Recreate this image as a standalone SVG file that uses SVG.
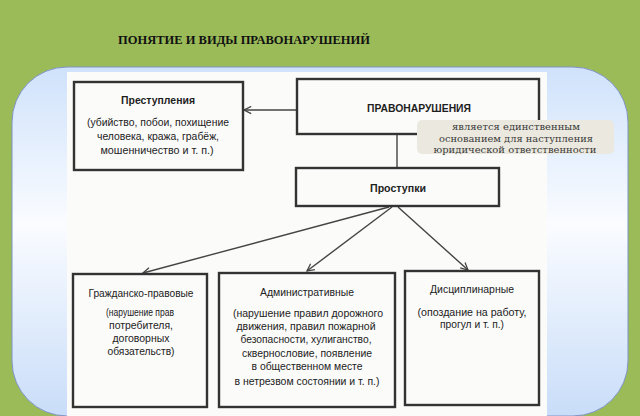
<svg xmlns="http://www.w3.org/2000/svg" width="640" height="416" viewBox="0 0 640 416">
  <defs>
    <linearGradient id="panelGrad" x1="0" y1="0" x2="0" y2="1">
      <stop offset="0" stop-color="#cfe2fb"/>
      <stop offset="0.45" stop-color="#fafcff"/>
      <stop offset="1" stop-color="#c9ddf9"/>
    </linearGradient>
    <marker id="arr" viewBox="0 0 10 10" refX="9" refY="5" markerWidth="9" markerHeight="9" markerUnits="userSpaceOnUse" orient="auto">
      <path d="M1,1 L9,5 L1,9" fill="none" stroke="#444" stroke-width="1.4"/>
    </marker>
    <style>
      .box { fill: none; stroke: #333; stroke-width: 2.4; }
      .conn { stroke: #444; stroke-width: 1.4; fill: none; }
      .hd { font-family: "Liberation Sans", Arial, sans-serif; font-weight: bold; font-size: 10.5px; fill: #1e1e1e; text-anchor: middle; }
      .sub { font-family: "Liberation Sans", Arial, sans-serif; font-size: 10.5px; fill: #222; text-anchor: middle; }
      .body { font-family: "Liberation Sans", Arial, sans-serif; font-size: 10.5px; fill: #222; text-anchor: middle; }
      .note { font-family: "DejaVu Serif", "Liberation Serif", serif; font-size: 9.5px; fill: #3a3a3a; text-anchor: middle; }
    </style>
  </defs>

  <rect x="0" y="0" width="640" height="416" fill="#9bbb59"/>
  <text x="118" y="43.5" font-family="Liberation Serif, serif" font-weight="bold" font-size="12.5" fill="#111" textLength="252" lengthAdjust="spacingAndGlyphs">ПОНЯТИЕ И ВИДЫ ПРАВОНАРУШЕНИЙ</text>

  <rect x="12" y="67" width="616" height="349" rx="55" ry="55" fill="url(#panelGrad)" stroke="#7f93c6" stroke-width="1"/>
  <rect x="67" y="72" width="480" height="344" fill="#fbfbfa"/>

  <g id="connectors">
    <line class="conn" x1="297" y1="110" x2="244" y2="110" marker-end="url(#arr)"/>
    <line class="conn" x1="397" y1="134" x2="397" y2="168"/>
    <line class="conn" x1="389" y1="207" x2="143" y2="273" marker-end="url(#arr)"/>
    <line class="conn" x1="392" y1="207" x2="307" y2="271" marker-end="url(#arr)"/>
    <line class="conn" x1="398" y1="207" x2="468" y2="270" marker-end="url(#arr)"/>
  </g>

  <g id="prestupleniya">
    <rect class="box" x="74" y="82" width="169" height="88"/>
    <text class="hd" x="158" y="104" textLength="74" lengthAdjust="spacingAndGlyphs">Преступления</text>
    <text class="body" x="158" y="126" textLength="142" lengthAdjust="spacingAndGlyphs">(убийство, побои, похищение</text>
    <text class="body" x="158" y="140" textLength="122" lengthAdjust="spacingAndGlyphs">человека, кража, грабёж,</text>
    <text class="body" x="157" y="154" textLength="113" lengthAdjust="spacingAndGlyphs">мошенничество и т. п.)</text>
  </g>

  <g id="pravonarusheniya">
    <rect class="box" x="297" y="79" width="242" height="55"/>
    <text class="hd" x="419" y="112" textLength="104" lengthAdjust="spacingAndGlyphs">ПРАВОНАРУШЕНИЯ</text>
  </g>

  <g id="note">
    <rect x="417" y="120" width="197" height="34" rx="5" ry="5" fill="#ebe9df"/>
    <text class="note" x="516" y="130" textLength="128" lengthAdjust="spacingAndGlyphs">является единственным</text>
    <text class="note" x="516" y="141.5" textLength="154" lengthAdjust="spacingAndGlyphs">основанием для наступления</text>
    <text class="note" x="515" y="153" textLength="163" lengthAdjust="spacingAndGlyphs">юридической ответственности</text>
  </g>

  <g id="prostupki">
    <rect class="box" x="296" y="168" width="203" height="38"/>
    <text class="hd" x="398" y="192" textLength="56" lengthAdjust="spacingAndGlyphs">Проступки</text>
  </g>

  <g id="grazhdansko">
    <rect class="box" x="73" y="274" width="134" height="133"/>
    <text class="sub" x="141" y="297" textLength="105" lengthAdjust="spacingAndGlyphs">Гражданско-правовые</text>
    <text class="body" x="140" y="316" textLength="68" lengthAdjust="spacingAndGlyphs">(нарушение прав</text>
    <text class="body" x="141" y="329" textLength="64" lengthAdjust="spacingAndGlyphs">потребителя,</text>
    <text class="body" x="141" y="342" textLength="57" lengthAdjust="spacingAndGlyphs">договорных</text>
    <text class="body" x="141" y="355" textLength="67" lengthAdjust="spacingAndGlyphs">обязательств)</text>
  </g>

  <g id="administrativnye">
    <rect class="box" x="219" y="273" width="176" height="134"/>
    <text class="sub" x="307" y="296" textLength="94" lengthAdjust="spacingAndGlyphs">Административные</text>
    <text class="body" x="308" y="317" textLength="150" lengthAdjust="spacingAndGlyphs">(нарушение правил дорожного</text>
    <text class="body" x="306" y="330" textLength="139" lengthAdjust="spacingAndGlyphs">движения, правил пожарной</text>
    <text class="body" x="306" y="343" textLength="131" lengthAdjust="spacingAndGlyphs">безопасности, хулиганство,</text>
    <text class="body" x="307" y="357" textLength="130" lengthAdjust="spacingAndGlyphs">сквернословие, появление</text>
    <text class="body" x="307" y="370" textLength="111" lengthAdjust="spacingAndGlyphs">в общественном месте</text>
    <text class="body" x="307" y="385" textLength="145" lengthAdjust="spacingAndGlyphs">в нетрезвом состоянии и т. п.)</text>
  </g>

  <g id="distsiplinarnye">
    <rect class="box" x="405" y="271" width="134" height="134"/>
    <text class="sub" x="472" y="293" textLength="84" lengthAdjust="spacingAndGlyphs">Дисциплинарные</text>
    <text class="body" x="472" y="316" textLength="109" lengthAdjust="spacingAndGlyphs">(опоздание на работу,</text>
    <text class="body" x="472" y="328" textLength="64" lengthAdjust="spacingAndGlyphs">прогул и т. п.)</text>
  </g>
</svg>
